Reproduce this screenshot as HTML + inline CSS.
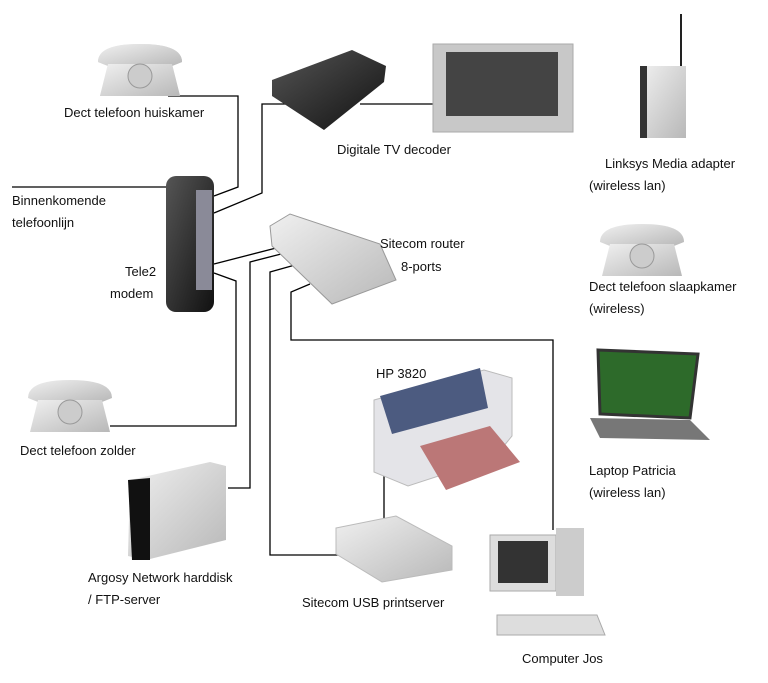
<!DOCTYPE html>
<html><head><meta charset="utf-8"><style>
body{margin:0;background:#fff;width:768px;height:683px;overflow:hidden}
svg{display:block}
text{font-family:"Liberation Sans",sans-serif;font-size:13px;fill:#111}
</style></head><body>
<svg width="768" height="683" viewBox="0 0 768 683">
<defs>
<linearGradient id="g1" x1="0" y1="0" x2="1" y2="1"><stop offset="0" stop-color="#f0f0f0"/><stop offset="1" stop-color="#b8b8b8"/></linearGradient>
<linearGradient id="dk" x1="0" y1="0" x2="1" y2="1"><stop offset="0" stop-color="#555"/><stop offset="1" stop-color="#111"/></linearGradient>
</defs>
<g fill="none" stroke="#000" stroke-width="1.3">
<polyline points="168,96 238,96 238,187 214,196"/>
<polyline points="12,187 168,187"/>
<polyline points="300,104 262,104 262,193 214,213"/>
<polyline points="360,104 433,104"/>
<polyline points="214,264 280,247"/>
<polyline points="214,273 236,281 236,426 110,426"/>
<polyline points="285,253 250,262 250,488 228,488"/>
<polyline points="295,265 270,272 270,555 348,555"/>
<polyline points="310,284 291,292 291,340 553,340 553,530"/>
<polyline points="384,460 384,518"/>
</g>
<!-- phones -->
<g id="ph">
<path d="M98,62 q0,-18 42,-18 q42,0 42,18 l-10,4 -64,0z" fill="url(#g1)"/>
<path d="M108,64 l64,0 8,32 -80,0z" fill="url(#g1)"/>
<circle cx="140" cy="76" r="12" fill="#ccc" stroke="#999"/>
</g>
<use href="#ph" x="0" y="0"/>
<use href="#ph" x="502" y="180"/>
<use href="#ph" x="-70" y="336"/>
<!-- decoder -->
<path d="M272,80 l80,-30 34,16 -2,16 -60,48 -52,-34z" fill="url(#dk)"/>
<!-- TV -->
<rect x="433" y="44" width="140" height="88" fill="#c8c8c8" stroke="#aaa"/>
<rect x="446" y="52" width="112" height="64" fill="#444"/>
<!-- linksys -->
<line x1="681" y1="14" x2="681" y2="66" stroke="#222" stroke-width="2"/>
<rect x="640" y="66" width="46" height="72" fill="url(#g1)"/>
<rect x="640" y="66" width="7" height="72" fill="#333"/>
<!-- modem -->
<rect x="166" y="176" width="48" height="136" rx="10" fill="url(#dk)"/>
<rect x="196" y="190" width="16" height="100" fill="#8a8a98"/>
<!-- router -->
<path d="M270,226 l20,-12 90,30 16,36 -64,24 -60,-58z" fill="url(#g1)" stroke="#999"/>
<!-- printer -->
<path d="M374,400 l110,-30 28,8 0,58 -18,22 -86,28 -34,-14z" fill="#e4e4e8" stroke="#bbb"/>
<path d="M380,396 l100,-28 8,40 -96,26z" fill="#4c5b80"/>
<path d="M420,446 l70,-20 30,36 -74,28z" fill="#b77"/>
<!-- harddisk -->
<path d="M130,480 l80,-18 16,4 0,74 -80,20 -18,-4z" fill="url(#g1)"/>
<path d="M128,480 l22,-2 0,82 -18,0z" fill="#111"/>
<!-- printserver -->
<path d="M336,528 l60,-12 56,30 0,24 -70,12 -46,-28z" fill="url(#g1)" stroke="#bbb"/>
<!-- laptop -->
<path d="M598,350 l100,4 -8,64 -90,-4z" fill="#2d6a2a" stroke="#333" stroke-width="3"/>
<path d="M590,418 l100,2 20,20 -110,-2z" fill="#777"/>
<!-- computer -->
<rect x="490" y="535" width="66" height="56" fill="#ddd" stroke="#aaa"/>
<rect x="498" y="541" width="50" height="42" fill="#333"/>
<rect x="556" y="528" width="28" height="68" fill="#ccc"/>
<path d="M497,615 l100,0 8,20 -108,0z" fill="#ddd" stroke="#aaa"/>
<!-- labels -->
<text x="64" y="117">Dect  telefoon huiskamer</text>
<text x="337" y="154">Digitale TV decoder</text>
<text x="605" y="168">Linksys Media adapter</text>
<text x="589" y="190">(wireless lan)</text>
<text x="12" y="205">Binnenkomende</text>
<text x="12" y="227">telefoonlijn</text>
<text x="380" y="248">Sitecom router</text>
<text x="401" y="271">8-ports</text>
<text x="125" y="276">Tele2</text>
<text x="110" y="298">modem</text>
<text x="589" y="291">Dect telefoon slaapkamer</text>
<text x="589" y="313">(wireless)</text>
<text x="376" y="378">HP 3820</text>
<text x="20" y="455">Dect telefoon zolder</text>
<text x="589" y="475">Laptop Patricia</text>
<text x="589" y="497">(wireless lan)</text>
<text x="88" y="582">Argosy Network harddisk</text>
<text x="88" y="604">/ FTP-server</text>
<text x="302" y="607">Sitecom USB printserver</text>
<text x="522" y="663">Computer Jos</text>
</svg>
</body></html>
